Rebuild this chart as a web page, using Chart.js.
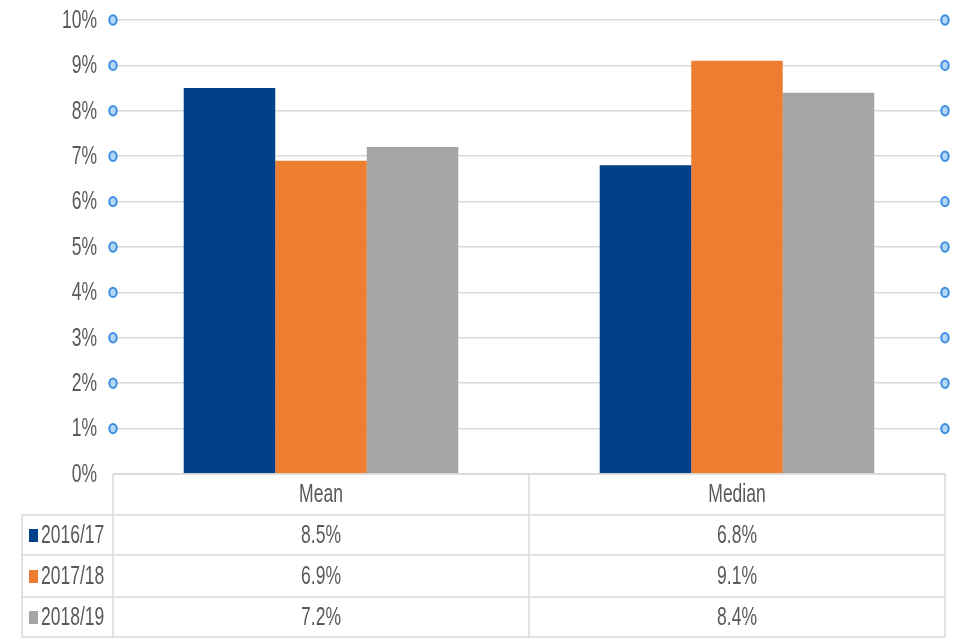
<!DOCTYPE html>
<html>
<head>
<meta charset="utf-8">
<script src="https://cdn.jsdelivr.net/npm/chart.js@4.4.1/dist/chart.umd.min.js"></script>
<style>
  html, body { margin: 0; padding: 0; background: #fff; }
  canvas { display: block; }
</style>
</head>
<body>
<canvas id="chart" width="960" height="640"></canvas>
<script>
// Data
const categories = ["Mean", "Median"];
const seriesLabels = ["2016/17", "2017/18", "2018/19"];
const values2016 = [8.5, 6.8];
const values2017 = [6.9, 9.1];
const values2018 = [7.2, 8.4];
const yTicks = [0, 1, 2, 3, 4, 5, 6, 7, 8, 9, 10];

const colors = ["#004189", "#ed7d31", "#a5a5a5"];
const seriesValues = [values2016, values2017, values2018];
const FONT = "'Liberation Sans', Arial, sans-serif";
const textColor = "#595959";
const lineColor = "#d9d9d9";

// narrow text (the original uses a condensed face we don't have)
function narrowText(ctx, text, x, y, align) {
    ctx.save();
    ctx.translate(x, y);
    ctx.scale(0.7, 1);
    ctx.textAlign = align;
    ctx.textBaseline = "middle";
    ctx.fillText(text, 0, 0);
    ctx.restore();
}

// y labels + little blue circles at both ends of each gridline
const axisExtras = {
    id: "axisExtras",
    afterDraw(chart) {
        const ctx = chart.ctx;
        const y = chart.scales.y;
        const area = chart.chartArea;
        ctx.save();
        ctx.fillStyle = textColor;
        ctx.font = "25px " + FONT;
        yTicks.forEach((t) => {
            narrowText(ctx, t + "%", area.left - 16, y.getPixelForValue(t) + 1, "right");
        });
        ctx.lineWidth = 2;
        ctx.strokeStyle = "#3b8ee0";
        ctx.fillStyle = "#b5d7f7";
        yTicks.forEach((t) => {
            if (t === 0) return;
            const py = y.getPixelForValue(t);
            [area.left, area.right].forEach((px) => {
                ctx.beginPath();
                ctx.ellipse(px, py, 3.7, 4.7, 0, 0, Math.PI * 2);
                ctx.fill();
                ctx.stroke();
            });
        });
        ctx.restore();
    },
};

// data table under the plot (Excel style)
const dataTable = {
    id: "dataTable",
    afterDraw(chart) {
        const ctx = chart.ctx;
        const x = chart.scales.x;
        const area = chart.chartArea;
        const top = area.bottom;
        const rowH = [41, 40, 42, 40];
        const rowsY = [top];
        rowH.forEach((h) => rowsY.push(rowsY[rowsY.length - 1] + h));
        const legendLeft = 22;
        const mid = (x.getPixelForValue(0) + x.getPixelForValue(1)) / 2;
        const colEdges = [area.left, mid, area.right];

        ctx.save();
        ctx.strokeStyle = lineColor;
        ctx.lineWidth = 1.5;
        rowsY.forEach((ry, i) => {
            ctx.beginPath();
            ctx.moveTo(i === 0 ? area.left : legendLeft, ry);
            ctx.lineTo(area.right, ry);
            ctx.stroke();
        });
        ctx.beginPath();
        ctx.moveTo(legendLeft, rowsY[1]);
        ctx.lineTo(legendLeft, rowsY[4]);
        ctx.stroke();
        colEdges.forEach((cx) => {
            ctx.beginPath();
            ctx.moveTo(cx, rowsY[0]);
            ctx.lineTo(cx, rowsY[4]);
            ctx.stroke();
        });

        ctx.fillStyle = textColor;
        ctx.font = "25px " + FONT;
        categories.forEach((c, i) => {
            narrowText(ctx, c, x.getPixelForValue(i), (rowsY[0] + rowsY[1]) / 2 + 1, "center");
        });
        seriesLabels.forEach((s, r) => {
            const cy = (rowsY[r + 1] + rowsY[r + 2]) / 2 + 1;
            ctx.fillStyle = colors[r];
            ctx.fillRect(legendLeft + 7, cy - 7, 9, 13);
            ctx.fillStyle = textColor;
            narrowText(ctx, s, legendLeft + 19, cy, "left");
            seriesValues[r].forEach((v, i) => {
                narrowText(ctx, v.toFixed(1) + "%", x.getPixelForValue(i), cy, "center");
            });
        });
        ctx.restore();
    },
};

new Chart(document.getElementById("chart"), {
    type: "bar",
    data: {
        labels: categories,
        datasets: seriesLabels.map((s, i) => ({
            label: s,
            data: seriesValues[i],
            backgroundColor: colors[i],
            borderWidth: 0,
            categoryPercentage: 0.66,
            barPercentage: 1.0,
        })),
    },
    options: {
        responsive: false,
        animation: false,
        layout: { padding: { top: 20, right: 15, bottom: 166, left: 0 } },
        plugins: {
            legend: { display: false },
            tooltip: { enabled: false },
        },
        scales: {
            x: { display: false },
            y: {
                min: 0,
                max: 10,
                afterBuildTicks: (scale) => {
                    scale.ticks = yTicks.map((v) => ({ value: v }));
                },
                afterFit: (scale) => {
                    scale.width = 113;
                },
                ticks: { display: false },
                grid: {
                    color: lineColor,
                    lineWidth: 1.5,
                    drawTicks: false,
                },
                border: { display: false },
            },
        },
    },
    plugins: [axisExtras, dataTable],
});
</script>
</body>
</html>
